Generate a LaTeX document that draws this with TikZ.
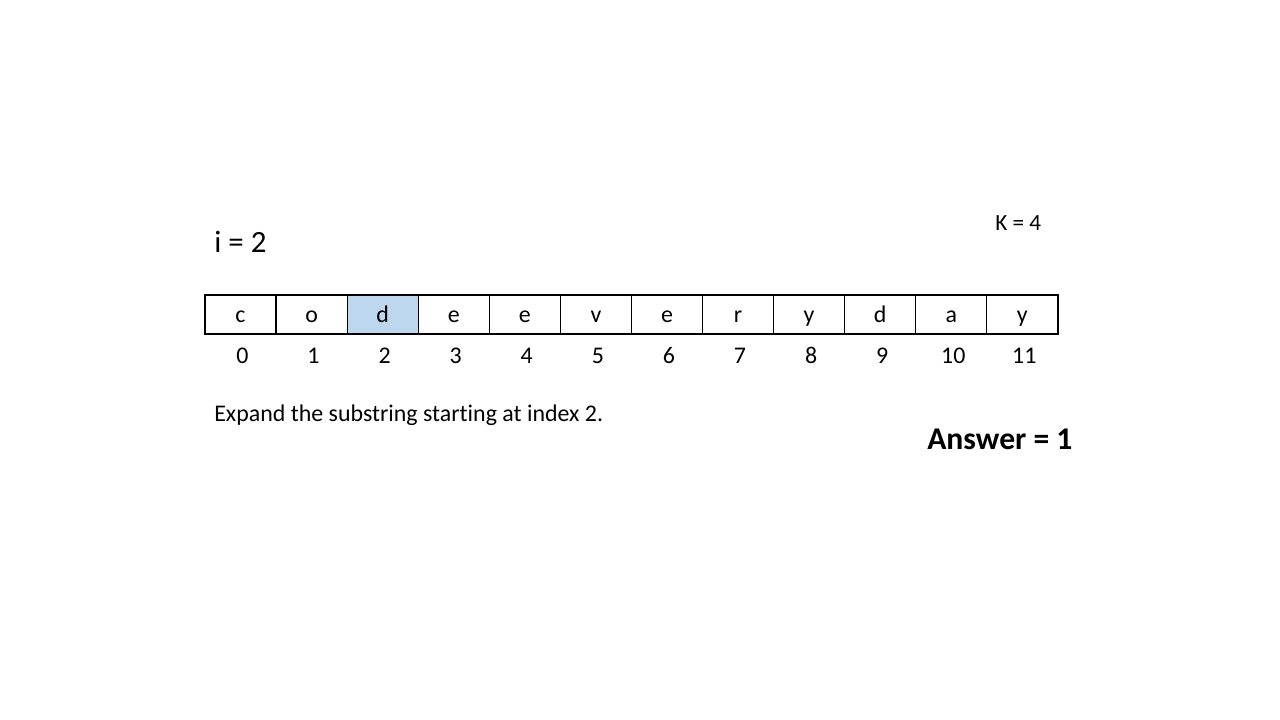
\documentclass[tikz,border=0pt]{standalone}
\usepackage{fontspec}
\setmainfont{Carlito}[Ligatures=NoCommon]
\usetikzlibrary{positioning}

\tikzset{
  cell/.style={draw, line width=0.8pt, minimum width=1.777cm, minimum height=0.975cm,
    inner sep=0pt, outer sep=0pt, text height=14pt, text depth=2pt,
    font=\fontsize{17}{20}\selectfont},
  picked/.style={cell, fill=pickblue},
  idx/.style={font=\fontsize{17}{20}\selectfont, inner sep=0pt, anchor=base},
  note/.style={font=\fontsize{17}{20}\selectfont, inner sep=0pt, anchor=base west}
}
\definecolor{pickblue}{HTML}{BDD7EE}

\begin{document}
\begin{tikzpicture}[x=0.025cm,y=-0.025cm]
\useasboundingbox (0,0) rectangle (1280,720);

\node [note, font=\fontsize{22}{26}\selectfont] (iv) at (214,253) {i = 2};
\node [note, font=\fontsize{16.5}{20}\selectfont] (kv) at (995,231) {K = 4};

% the string, one cell per letter
\foreach \ch [count=\i from 0] in {c,o,d,e,e,v,e,r,y,d,a,y} {
  \ifnum\i=2
    \node [picked] (c\i) at ({240.5+71.08*\i},314.5) {\ch};
  \else
    \node [cell] (c\i) at ({240.5+71.08*\i},314.5) {\ch};
  \fi
  \node [idx] (n\i) at ([xshift=1.4pt, yshift=-35.1pt]c\i.center) {\i};
}

\node [note] (msg) at (214,421) {Expand the substring starting at index 2.};
\node [note, font=\fontsize{22.5}{27}\selectfont\bfseries] (ans) at (927,449) {Answer = 1};

\end{tikzpicture}
\end{document}
